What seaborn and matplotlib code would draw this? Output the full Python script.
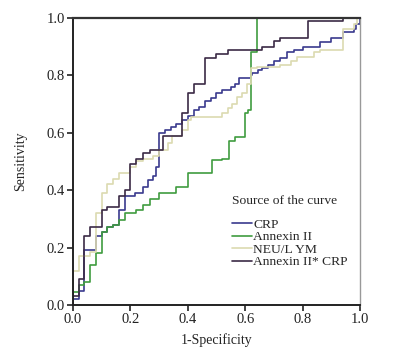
import numpy as np
import pandas as pd
import seaborn as sns
import matplotlib.pyplot as plt

# ROC curve points (1-specificity, sensitivity)
crp_fpr = [0, 0, 0.02, 0.04, 0.08, 0.10, 0.12, 0.14, 0.16, 0.18, 0.216, 0.245, 0.26, 0.28, 0.29, 0.30,
           0.32, 0.34, 0.36, 0.38, 0.40, 0.42, 0.44, 0.46, 0.48, 0.50, 0.52, 0.55, 0.565, 0.58, 0.62,
           0.625, 0.645, 0.66, 0.68, 0.70, 0.72, 0.745, 0.77, 0.80, 0.86, 0.90, 0.94, 0.98, 0.985, 1.0]
crp_tpr = [0, 0.02, 0.05, 0.19, 0.24, 0.255, 0.27, 0.28, 0.33, 0.38, 0.39, 0.41, 0.435, 0.45, 0.48, 0.60,
           0.61, 0.62, 0.63, 0.645, 0.66, 0.68, 0.69, 0.71, 0.72, 0.74, 0.75, 0.76, 0.77, 0.79, 0.80,
           0.81, 0.82, 0.825, 0.835, 0.85, 0.86, 0.88, 0.89, 0.90, 0.915, 0.93, 0.95, 0.96, 0.98, 1.0]

anx_fpr = [0, 0, 0.02, 0.04, 0.06, 0.08, 0.10, 0.12, 0.14, 0.16, 0.18, 0.22, 0.245, 0.27, 0.30, 0.36,
           0.40, 0.485, 0.52, 0.545, 0.565, 0.60, 0.61, 0.62, 0.64, 1.0]
anx_tpr = [0, 0.045, 0.07, 0.08, 0.14, 0.18, 0.255, 0.27, 0.28, 0.295, 0.32, 0.33, 0.35, 0.37, 0.39, 0.41,
           0.46, 0.505, 0.51, 0.57, 0.585, 0.67, 0.68, 0.88, 1.0, 1.0]

neu_fpr = [0, 0, 0.02, 0.06, 0.08, 0.10, 0.12, 0.14, 0.16, 0.20, 0.22, 0.245, 0.28, 0.30, 0.33, 0.345,
           0.38, 0.40, 0.41, 0.52, 0.54, 0.555, 0.57, 0.59, 0.605, 0.62, 0.64, 0.72, 0.76, 0.78, 0.84,
           0.86, 0.94, 0.98, 0.99, 1.0]
neu_tpr = [0, 0.12, 0.17, 0.185, 0.32, 0.39, 0.42, 0.44, 0.46, 0.48, 0.50, 0.51, 0.52, 0.54, 0.565, 0.59,
           0.61, 0.645, 0.655, 0.67, 0.685, 0.70, 0.725, 0.74, 0.77, 0.825, 0.83, 0.835, 0.85, 0.865, 0.88,
           0.89, 0.96, 0.98, 1.0, 1.0]

comb_fpr = [0, 0, 0.02, 0.04, 0.06, 0.10, 0.12, 0.16, 0.18, 0.20, 0.22, 0.245, 0.27, 0.315, 0.38, 0.40,
            0.42, 0.46, 0.50, 0.54, 0.66, 0.70, 0.72, 0.82, 0.94, 1.0]
comb_tpr = [0, 0.03, 0.09, 0.24, 0.27, 0.33, 0.34, 0.38, 0.40, 0.49, 0.51, 0.53, 0.54, 0.59, 0.67, 0.74,
            0.77, 0.86, 0.875, 0.89, 0.90, 0.92, 0.93, 0.99, 1.0, 1.0]

labels = ["CRP", "Annexin II", "NEU/L YM", "Annexin II* CRP"]
colors = ["#3a3a8e", "#3f9c3f", "#dcdab0", "#3b2a45"]

frames = []
for lab, fx, ty in zip(labels, [crp_fpr, anx_fpr, neu_fpr, comb_fpr],
                       [crp_tpr, anx_tpr, neu_tpr, comb_tpr]):
    frames.append(pd.DataFrame({"fpr": fx, "tpr": ty, "curve": lab}))
df = pd.concat(frames, ignore_index=True)

sns.set_style("white")
plt.rcParams['font.family'] = ['Liberation Serif', 'DejaVu Serif']

fig = plt.figure(figsize=(3.95, 3.57), dpi=100)
ax = fig.add_axes([0.1848, 0.1457, 0.7266, 0.8039])

sns.lineplot(data=df, x="fpr", y="tpr", hue="curve", hue_order=labels, palette=colors,
             estimator=None, sort=False, drawstyle="steps-post", linewidth=1.2, ax=ax)

ax.set_xlim(0, 1)
ax.set_ylim(0, 1)
ticks = [0.0, 0.2, 0.4, 0.6, 0.8, 1.0]
ax.set_xticks(ticks)
ax.set_yticks(ticks)
ax.set_xticklabels([f"{t:.1f}" for t in ticks])
ax.set_yticklabels([f"{t:.1f}" for t in ticks])
ax.tick_params(direction="out", length=4, width=1.2, labelsize=10.5, colors="#222222", pad=2,
               bottom=True, left=True)
ax.set_xlabel("1-Specificity", fontsize=10, labelpad=5)
ax.set_ylabel("Sensitivity", fontsize=10, labelpad=14)

for side in ["left", "bottom"]:
    ax.spines[side].set_color("#222222")
    ax.spines[side].set_linewidth(1.4)
ax.spines["top"].set_color("#333333")
ax.spines["top"].set_linewidth(1.6)
ax.spines["right"].set_color("#999999")
ax.spines["right"].set_linewidth(1.0)

leg = ax.legend(title="Source of the curve", loc="upper left", bbox_to_anchor=(0.53, 0.405),
                frameon=False, fontsize=9.7, title_fontsize=9.7, handlelength=1.5, handletextpad=0.1,
                labelspacing=0.0, borderpad=0, alignment="left")
leg._legend_box.sep = 8
for h in leg.legend_handles:
    h.set_linewidth(1.2)

fig.savefig("out.png", dpi=100)
